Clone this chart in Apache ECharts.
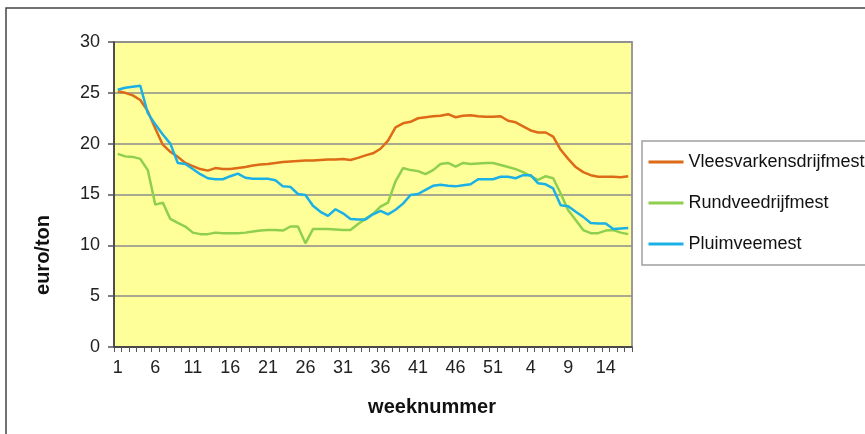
<!DOCTYPE html>
<html>
<head>
<meta charset="utf-8">
<script src="https://cdn.jsdelivr.net/npm/echarts@6/dist/echarts.min.js"></script>
<style>
html,body{margin:0;padding:0;background:#fff;}
#chart{width:865px;height:434px;}
</style>
</head>
<body>
<div id="chart"></div>
<script>
// Week numbers: 52 weeks of year 1, then weeks 1..17 of year 2
var weeks = ['1','2','3','4','5','6','7','8','9','10','11','12','13','14','15','16','17','18','19','20',
  '21','22','23','24','25','26','27','28','29','30','31','32','33','34','35','36','37','38','39','40',
  '41','42','43','44','45','46','47','48','49','50','51','52',
  '1','2','3','4','5','6','7','8','9','10','11','12','13','14','15','16','17'];

var seriesNames = ['Vleesvarkensdrijfmest', 'Rundveedrijfmest', 'Pluimveemest'];

var vleesvarkens = [25.15,25.0,24.75,24.3,23.2,21.5,19.9,19.2,18.7,18.1,17.8,17.5,17.35,17.6,17.5,17.5,17.6,
  17.7,17.85,17.95,18.0,18.1,18.2,18.25,18.3,18.35,18.35,18.4,18.45,18.45,18.5,18.4,18.6,18.85,19.05,
  19.5,20.3,21.6,22.0,22.15,22.5,22.6,22.7,22.75,22.9,22.6,22.75,22.8,22.7,22.65,22.65,22.7,
  22.25,22.1,21.7,21.3,21.1,21.1,20.7,19.4,18.5,17.7,17.2,16.9,16.75,16.75,16.75,16.7,16.8];

var rundvee = [19.0,18.75,18.7,18.5,17.4,14.0,14.2,12.6,12.2,11.85,11.25,11.1,11.1,11.25,11.2,11.2,11.2,
  11.25,11.35,11.45,11.5,11.5,11.45,11.85,11.85,10.2,11.6,11.6,11.6,11.55,11.5,11.5,12.1,12.6,13.1,
  13.8,14.2,16.3,17.6,17.4,17.3,17.0,17.4,18.0,18.1,17.75,18.1,18.0,18.05,18.1,18.1,17.9,
  17.7,17.5,17.2,16.8,16.45,16.8,16.6,15.1,13.45,12.5,11.5,11.2,11.2,11.45,11.5,11.25,11.1];

var pluimvee = [25.3,25.5,25.6,25.7,23.0,21.9,20.9,20.0,18.1,18.0,17.5,17.0,16.6,16.5,16.5,16.8,17.05,
  16.65,16.55,16.55,16.55,16.4,15.8,15.75,15.05,14.95,13.9,13.3,12.9,13.55,13.15,12.6,12.55,12.55,13.05,
  13.4,13.05,13.5,14.1,14.95,15.05,15.45,15.85,15.95,15.85,15.8,15.9,16.0,16.5,16.5,16.5,16.75,
  16.75,16.6,16.9,16.9,16.1,16.0,15.6,13.95,13.85,13.3,12.8,12.2,12.15,12.15,11.6,11.65,11.7];

var colors = ['#DC6A17', '#8FCF4F', '#1BB0E6'];
var font = 'Liberation Sans';

var chart = echarts.init(document.getElementById('chart'), null, {renderer: 'canvas'});
chart.setOption({
  animation: false,
  backgroundColor: '#ffffff',
  color: colors,
  textStyle: {fontFamily: font},
  grid: {
    left: 114, top: 42, width: 518, height: 305,
    show: true, backgroundColor: '#FFFF99',
    borderColor: '#9a9a9a', borderWidth: 2
  },
  xAxis: {
    type: 'category',
    data: weeks,
    boundaryGap: true,
    axisLine: {show: true, lineStyle: {color: '#333', width: 1.5}},
    axisTick: {show: true, interval: 0, length: 5, alignWithLabel: false, lineStyle: {color: '#555', width: 1}},
    axisLabel: {interval: 4, margin: 12, fontSize: 18, color: '#222', fontFamily: font},
    splitLine: {show: false}
  },
  yAxis: {
    type: 'value',
    min: 0, max: 30, interval: 5,
    axisLine: {show: true, lineStyle: {color: '#333', width: 1.5}},
    axisTick: {show: true, length: 6, lineStyle: {color: '#555', width: 1.5}},
    axisLabel: {margin: 14, fontSize: 18, color: '#222', fontFamily: font},
    splitLine: {show: true, lineStyle: {color: '#8c8c8c', width: 1.5}}
  },
  legend: {
    orient: 'vertical',
    left: 642, top: 141,
    data: seriesNames,
    backgroundColor: '#ffffff',
    borderColor: '#a0a0a0', borderWidth: 1.5,
    padding: [12, 60, 12, 5],
    itemWidth: 35, itemHeight: 17, itemGap: 23,
    itemStyle: {opacity: 0},
    lineStyle: {width: 3},
    textStyle: {fontSize: 18, color: '#111', fontFamily: font}
  },
  graphic: [
    {type: 'rect', z: -10, silent: true,
     shape: {x: 6, y: 8, width: 1200, height: 1000},
     style: {fill: 'none', stroke: '#444', lineWidth: 1.5}},
    {type: 'text', x: 43, y: 255, rotation: Math.PI / 2, silent: true,
     style: {text: 'euro/ton', fontSize: 20, fontWeight: 'bold', fontFamily: font, fill: '#111',
             align: 'center', verticalAlign: 'middle'}},
    {type: 'text', x: 432, y: 407, silent: true,
     style: {text: 'weeknummer', fontSize: 20, fontWeight: 'bold', fontFamily: font, fill: '#111',
             align: 'center', verticalAlign: 'middle'}}
  ],
  series: [
    {name: seriesNames[0], type: 'line', data: vleesvarkens, symbol: 'none', lineStyle: {width: 2.5}},
    {name: seriesNames[1], type: 'line', data: rundvee, symbol: 'none', lineStyle: {width: 2.5}},
    {name: seriesNames[2], type: 'line', data: pluimvee, symbol: 'none', lineStyle: {width: 2.5}}
  ]
});
</script>
</body>
</html>
